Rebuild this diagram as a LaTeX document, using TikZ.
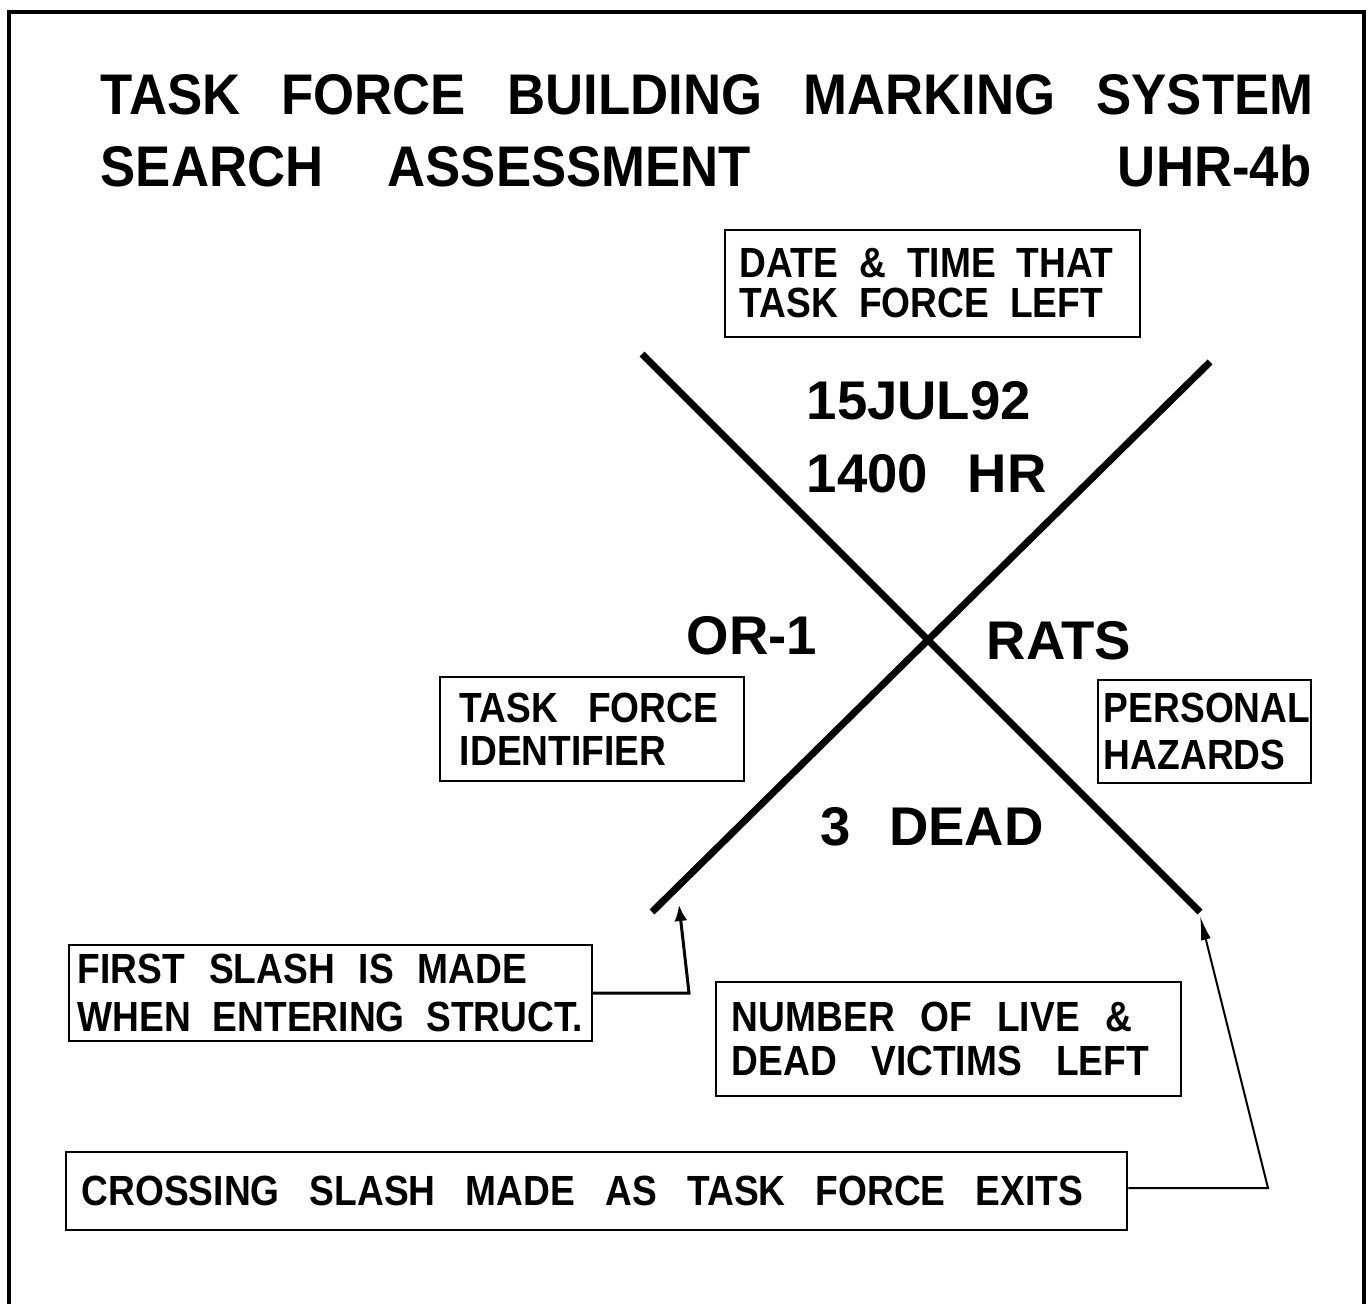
\documentclass[tikz,border=0pt]{standalone}
\usepackage{fontspec}
\setmainfont{Liberation Sans}
\newfontfamily\plotfont{Liberation Sans}[FakeStretch=0.92]
\newfontfamily\boxfont{Liberation Sans}[FakeStretch=0.88]
\newcommand\fitline[2]{{\spaceskip=0pt\xspaceskip=0pt\makebox[#1][s]{#2}}}
\usetikzlibrary{arrows.meta}

\begin{document}
\begin{tikzpicture}[x=0.01cm,y=-0.01cm,
   infobox/.style={draw,line width=0.02cm,align=left,inner ysep=0pt,
      font=\boxfont\bfseries\fontsize{12pt}{#1}\selectfont},
   bigtext/.style={inner sep=0pt,anchor=base west,font=\bfseries\fontsize{15.5pt}{18pt}\selectfont},
   titletext/.style={inner sep=0pt,font=\plotfont\bfseries\fontsize{16.3pt}{20pt}\selectfont},
   slash/.style={line width=0.07cm}]
   \useasboundingbox (0,0) rectangle (1370,1304);
   % frame, open at the bottom
   \draw[line width=0.045cm] (9,1330) -- (9,12) -- (1364,12) -- (1364,1330);
   % title
   \node[titletext,anchor=base west] (title1) at (100,115) {\fitline{12.12cm}{TASK FORCE BUILDING MARKING SYSTEM}};
   \node[titletext,anchor=base west] (title2) at (100,187) {\fitline{6.5cm}{SEARCH ASSESSMENT}};
   \node[titletext,anchor=base east] (title3) at (1312,187) {UHR-4b};
   % the X
   \coordinate (s1a) at (642,354); \coordinate (s1b) at (1200,912);
   \coordinate (s2a) at (1210,362); \coordinate (s2b) at (652,912);
   \draw[slash] (s1a) -- (s1b);
   \draw[slash] (s2a) -- (s2b);
   % markings
   \node[bigtext] (date) at (806,420) {15JUL92};
   \node[bigtext] (time) at (806,493) {1400\hspace{0.4cm}HR};
   \node[bigtext] (tfid) at (686,655) {OR-1};
   \node[bigtext] (hazard) at (986,660) {RATS};
   \node[bigtext] (victims) at (820,845) {3\hspace{0.38cm}DEAD};
   % explanation boxes
   \node[infobox=11.4pt,text width=3.95cm,inner xsep=0.1cm,minimum height=1.07cm] (datebox) at (932.5,283.5)
      {\hspace{0.05cm}\fitline{3.73cm}{DATE \& TIME THAT}\\\hspace{0.05cm}\fitline{3.63cm}{TASK FORCE LEFT}};
   \node[infobox=12.2pt,text width=2.74cm,inner xsep=0.15cm,minimum height=1.04cm] (tfidbox) at (592,729)
      {\hspace{0.05cm}\fitline{2.58cm}{TASK FORCE}\\\hspace{0.05cm}IDENTIFIER\\[-0.12cm]};
   \node[infobox=13.6pt,text width=2.13cm,inner xsep=0pt,minimum height=1.03cm] (hazbox) at (1204.5,731.5)
      {\hspace{0.06cm}\makebox[2.01cm][l]{PERSONAL}\\\hspace{0.06cm}\makebox[2.01cm][l]{HAZARDS}};
   \node[infobox=13.9pt,text width=5.13cm,inner xsep=0.05cm,minimum height=0.96cm] (firstbox) at (330.5,993)
      {\hspace{0.04cm}\fitline{4.49cm}{FIRST SLASH IS MADE}\\\hspace{0.04cm}\fitline{5.05cm}{WHEN ENTERING STRUCT.}};
   \node[infobox=12.3pt,text width=4.45cm,inner xsep=0.1cm,minimum height=1.14cm] (victbox) at (948.5,1039)
      {\hspace{0.06cm}\fitline{4.0cm}{NUMBER OF LIVE \&}\\\hspace{0.06cm}\fitline{4.17cm}{DEAD VICTIMS LEFT}};
   \node[infobox=12pt,text width=10.29cm,inner xsep=0.16cm,minimum height=0.78cm] (crossbox) at (596.5,1191)
      {\fitline{10.01cm}{CROSSING SLASH MADE AS TASK FORCE EXITS}};
   % leaders
   \coordinate (bendA) at (689,993); \coordinate (tipA) at (679,905);
   \coordinate (bendB) at (1268,1188); \coordinate (tipB) at (1200,916);
   \draw[line width=0.03cm,-{Latex[length=0.16cm,width=0.13cm]}] (firstbox.east) -- (bendA) -- (tipA);
   \draw[line width=0.02cm,-{Latex[length=0.24cm,width=0.1cm]}] (crossbox.east |- bendB) -- (bendB) -- (tipB);
\end{tikzpicture}
\end{document}
